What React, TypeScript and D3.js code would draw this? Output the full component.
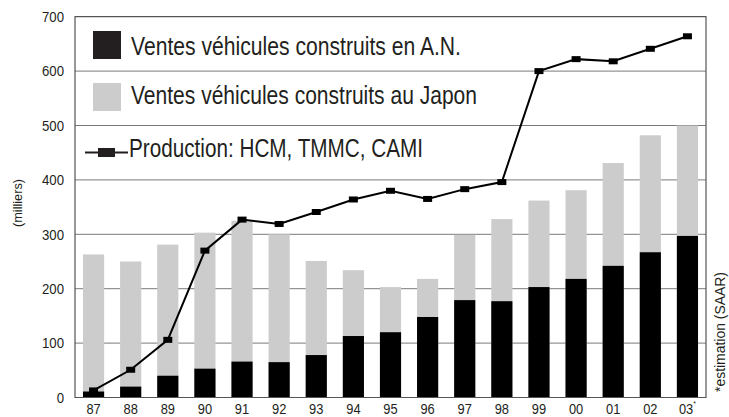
import React, { useEffect, useRef } from 'react'
import * as d3 from 'd3'

const years = ['87', '88', '89', '90', '91', '92', '93', '94', '95', '96', '97', '98', '99', '00', '01', '02', '03']
// ventes de véhicules construits en Amérique du Nord
const salesNA = [11, 20, 40, 53, 66, 65, 78, 113, 120, 148, 179, 177, 203, 218, 242, 267, 297]
// ventes totales (A.N. + Japon)
const salesTotal = [263, 250, 281, 303, 325, 300, 251, 234, 203, 218, 299, 328, 362, 381, 431, 482, 500]
const production = [13, 51, 106, 270, 327, 319, 341, 364, 380, 365, 383, 396, 600, 622, 618, 641, 664]
const yTicks = [0, 100, 200, 300, 400, 500, 600, 700]
const xLabels = ['87', '88', '89', '90', '91', '92', '93', '94', '95', '96', '97', '98', '99', '00', '01', '02', '03*']
const legendLabels = [
  'Ventes véhicules construits en A.N.',
  'Ventes véhicules construits au Japon',
  'Production: HCM, TMMC, CAMI'
]

const W = 729
const H = 417
const left = 75
const right = 706
const top = 16.7
const bottom = 397.5
const FONT = '"Liberation Sans", Arial, sans-serif'
const INK = '#231f20'

function drawChart(svgEl: SVGSVGElement) {
  const svg = d3.select(svgEl)
  svg.selectAll('*').remove()

  const y = d3.scaleLinear().domain([0, 700]).range([bottom, top])
  const x = d3.scaleBand().domain(years).range([left, right]).paddingInner(0.43).paddingOuter(0.215)
  const step = x.step()
  const cx = (d: string) => left + step * (years.indexOf(d) + 0.5)

  // grid lines
  svg.append('g')
    .selectAll('line')
    .data(yTicks.filter(t => t > 0 && t < 700))
    .join('line')
    .attr('x1', left).attr('x2', right)
    .attr('y1', d => y(d)).attr('y2', d => y(d))
    .attr('stroke', '#7a7a7a')
    .attr('stroke-width', 1)

  // bars: japon (total) then A.N.
  svg.append('g')
    .selectAll('rect')
    .data(years)
    .join('rect')
    .attr('x', d => x(d)!)
    .attr('width', x.bandwidth())
    .attr('y', (d, i) => y(salesTotal[i]))
    .attr('height', (d, i) => bottom - y(salesTotal[i]))
    .attr('fill', '#cccccc')

  svg.append('g')
    .selectAll('rect')
    .data(years)
    .join('rect')
    .attr('x', d => x(d)!)
    .attr('width', x.bandwidth())
    .attr('y', (d, i) => y(salesNA[i]))
    .attr('height', (d, i) => bottom - y(salesNA[i]))
    .attr('fill', '#000')

  // frame
  svg.append('path')
    .attr('d', `M${left},${bottom}V${top}H${right}V${bottom}Z`)
    .attr('fill', 'none')
    .attr('stroke', '#555')
    .attr('stroke-width', 1.2)

  // production line
  const line = d3.line<number>()
    .x((d, i) => cx(years[i]))
    .y(d => y(d))
  svg.append('path')
    .datum(production)
    .attr('d', line)
    .attr('fill', 'none')
    .attr('stroke', '#000')
    .attr('stroke-width', 2)

  svg.append('g')
    .selectAll('rect')
    .data(production)
    .join('rect')
    .attr('x', (d, i) => cx(years[i]) - 4.5)
    .attr('y', d => y(d) - 3)
    .attr('width', 9)
    .attr('height', 6)
    .attr('fill', '#000')

  // y tick labels (condensed look)
  svg.append('g')
    .selectAll('text')
    .data(yTicks)
    .join('text')
    .attr('transform', d => `translate(64,${y(d)}) scale(0.88,1)`)
    .attr('dy', '0.35em')
    .attr('text-anchor', 'end')
    .attr('font-family', FONT)
    .attr('font-size', 15)
    .attr('fill', INK)
    .text(d => d)

  // x labels
  const xl = svg.append('g')
    .selectAll('text')
    .data(years)
    .join('text')
    .attr('transform', d => `translate(${cx(d)},413.5) scale(0.86,1)`)
    .attr('text-anchor', 'middle')
    .attr('font-family', FONT)
    .attr('font-size', 15)
    .attr('fill', INK)
    .text((d, i) => xLabels[i].replace('*', ''))
  xl.filter((d, i) => xLabels[i].endsWith('*'))
    .append('tspan')
    .attr('font-size', 8)
    .attr('dy', -8)
    .text('*')

  // axis titles
  svg.append('text')
    .attr('transform', `translate(22,203) rotate(-90)`)
    .attr('text-anchor', 'middle')
    .attr('font-family', FONT)
    .attr('font-size', 13)
    .attr('textLength', 48)
    .attr('lengthAdjust', 'spacingAndGlyphs')
    .attr('fill', INK)
    .text('(milliers)')

  svg.append('text')
    .attr('transform', `translate(725,392) rotate(-90)`)
    .attr('text-anchor', 'start')
    .attr('font-family', FONT)
    .attr('font-size', 14)
    .attr('textLength', 120)
    .attr('lengthAdjust', 'spacingAndGlyphs')
    .attr('fill', INK)
    .text('*estimation (SAAR)')

  // legend
  const legend = svg.append('g')
  legend.append('rect').attr('x', 93).attr('y', 31).attr('width', 28).attr('height', 28).attr('fill', INK)
  legend.append('rect').attr('x', 93).attr('y', 83).attr('width', 28).attr('height', 28).attr('fill', '#cccccc')
  legend.append('line').attr('x1', 85).attr('x2', 128).attr('y1', 152.5).attr('y2', 152.5)
    .attr('stroke', INK).attr('stroke-width', 2)
  legend.append('rect').attr('x', 98).attr('y', 148).attr('width', 17).attr('height', 9).attr('fill', INK)

  const baselines = [55, 103.5, 157]
  const textX = [131, 131, 129]
  const textW = [330, 346, 294]
  legend.selectAll('text.leg')
    .data(legendLabels)
    .join('text')
    .attr('class', 'leg')
    .attr('x', (d, i) => textX[i])
    .attr('y', (d, i) => baselines[i])
    .attr('font-family', FONT)
    .attr('font-size', 25)
    .attr('textLength', (d, i) => textW[i])
    .attr('lengthAdjust', 'spacingAndGlyphs')
    .attr('fill', INK)
    .text(d => d)
}

export default function App() {
  const ref = useRef<SVGSVGElement>(null)
  useEffect(() => {
    if (ref.current) drawChart(ref.current)
  }, [])
  return (
    <svg
      ref={ref}
      width={W}
      height={H}
      style={{ position: 'absolute', left: 0, top: 0, background: '#fff' }}
    />
  )
}
